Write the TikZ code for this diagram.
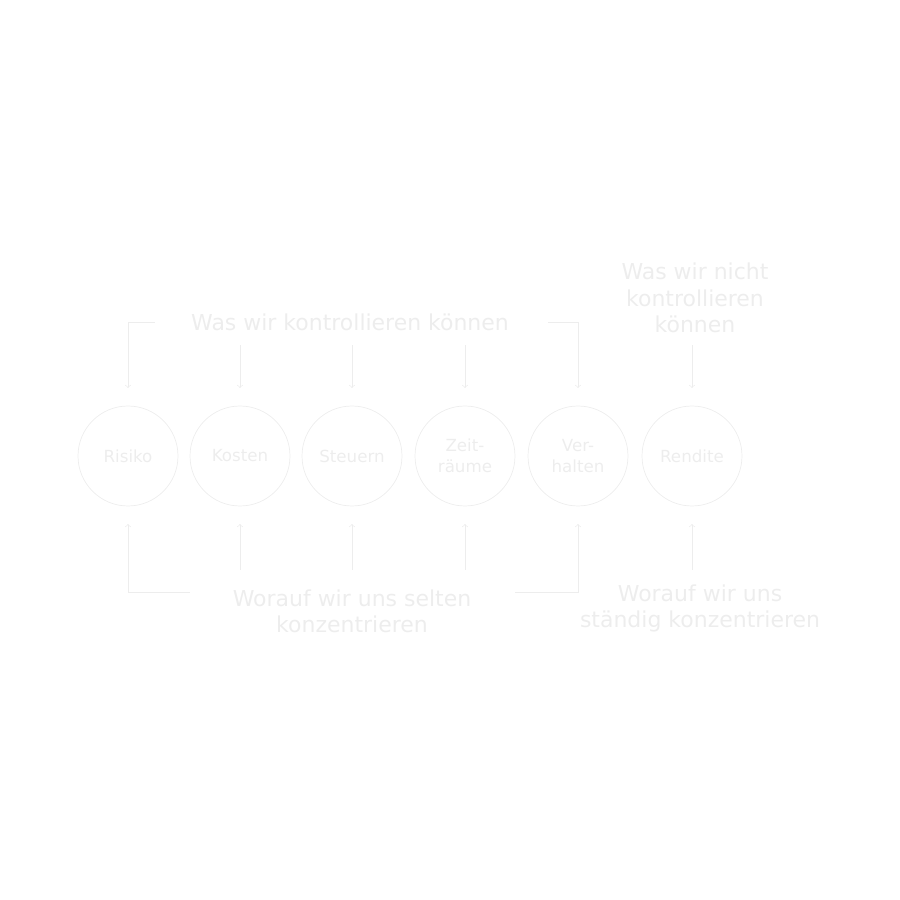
\documentclass[tikz,border=0pt]{standalone}
\usepackage{fontspec}
\setmainfont{DejaVu Sans}
\usetikzlibrary{positioning}
\begin{document}
\begin{tikzpicture}[faint/.style={draw=black!7},
    topic/.style={circle,faint,minimum size=2cm,inner sep=0pt,align=center,text=black!7,font=\fontsize{9.5}{12}\selectfont},
    note/.style={text=black!7,align=center,font=\fontsize{12.5}{15}\selectfont},
    link/.style={faint,thin,->}]
\useasboundingbox (0,0) rectangle (18,18);
% the six topics
\node[topic] (risk) at (2.56,8.88) {Risiko};
\node[topic] (cost) at (4.8,8.88) {Kosten};
\node[topic] (tax) at (7.04,8.88) {Steuern};
\node[topic] (time) at (9.3,8.88) {Zeit-\\räume};
\node[topic] (act) at (11.56,8.88) {Ver-\\halten};
\node[topic] (ret) at (13.84,8.88) {Rendite};
% labels
\node[note] (can) at (7.0,11.56) {Was wir kontrollieren können};
\node[note] (cannot) at (13.9,12.04) {Was wir nicht\\kontrollieren\\können};
\node[note] (seldom) at (7.04,5.78) {Worauf wir uns selten\\konzentrieren};
\node[note] (always) at (14.0,5.83) {Worauf wir uns\\ständig konzentrieren};
% arrows from above
\draw[link] (3.1,11.56) -| ([yshift=10pt]risk.north);
\draw[link] (10.96,11.56) -| ([yshift=10pt]act.north);
\foreach \n in {cost,tax,time,ret}
  \draw[link] (\n.north |- 0,11.1) -- ([yshift=10pt]\n.north);
% arrows from below
\draw[link] (3.8,6.16) -| ([yshift=-10pt]risk.south);
\draw[link] (10.3,6.16) -| ([yshift=-10pt]act.south);
\foreach \n in {cost,tax,time,ret}
  \draw[link] (\n.south |- 0,6.6) -- ([yshift=-10pt]\n.south);
\end{tikzpicture}
\end{document}
